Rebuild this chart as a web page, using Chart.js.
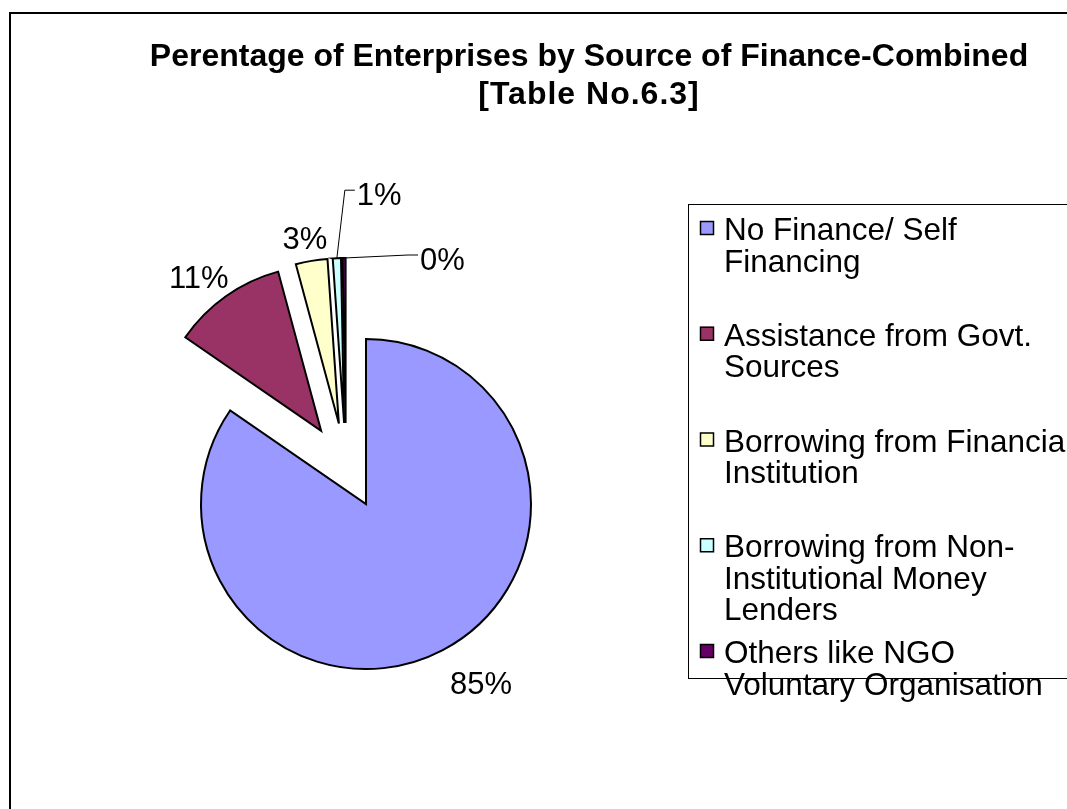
<!DOCTYPE html>
<html><head><meta charset="utf-8">
<script src="https://cdn.jsdelivr.net/npm/chart.js@4.4.1/dist/chart.umd.min.js"></script>
<style>html,body{margin:0;padding:0;background:#fff;overflow:hidden}canvas{display:block}</style>
</head><body>
<canvas id="c" width="1067" height="809"></canvas>
<script>
const titleLines = ['Perentage of Enterprises by Source of Finance-Combined', '[Table No.6.3]'];
const categories = [
  ['No Finance/ Self', 'Financing'],
  ['Assistance from Govt.', 'Sources'],
  ['Borrowing from Financial', 'Institution'],
  ['Borrowing from Non-', 'Institutional Money', 'Lenders'],
  ['Others like NGO', 'Voluntary Organisation']
];
const shares = [84.6, 11.2, 3.1, 0.8, 0.3];
const sliceColors = ['#9999FF', '#993366', '#FFFFCC', '#CCFFFF', '#660066'];

const FONT = '"Liberation Sans", Arial, sans-serif';
const EXPLODE = 43;
const LABEL_GAP = 17;
const LABEL_NUDGE = {0: [16, 11]};
const CALLOUTS = {3: {dx: 20, dy: -62}, 4: {dx: 76, dy: 3}};
const TITLE_SPACING = ['0px', '1px'];

const framePlugin = {
  id: 'frame',
  beforeDraw(chart) {
    const ctx = chart.ctx;
    ctx.save();
    ctx.fillStyle = '#fff';
    ctx.fillRect(0, 0, chart.width, chart.height);
    ctx.strokeStyle = '#000';
    ctx.lineWidth = 2;
    ctx.strokeRect(10, 13, 1200, 1000);
    ctx.fillStyle = '#000';
    ctx.font = 'bold 32px ' + FONT;
    ctx.textAlign = 'center';
    ctx.textBaseline = 'alphabetic';
    titleLines.forEach((t, i) => {
      if ('letterSpacing' in ctx) ctx.letterSpacing = TITLE_SPACING[i];
      ctx.fillText(t, 589, 66 + i * 38);
    });
    ctx.restore();
  }
};

const explodePlugin = {
  id: 'explode',
  beforeDatasetDraw(chart, args) {
    const ctx = chart.ctx;
    args.meta.data.forEach(arc => {
      const mid = (arc.startAngle + arc.endAngle) / 2;
      ctx.save();
      ctx.translate(Math.cos(mid) * EXPLODE, Math.sin(mid) * EXPLODE);
      arc.draw(ctx, chart.chartArea);
      ctx.restore();
    });
    return false;
  }
};

const labelPlugin = {
  id: 'sliceLabels',
  afterDatasetsDraw(chart) {
    const ctx = chart.ctx;
    const meta = chart.getDatasetMeta(0);
    const total = shares.reduce((a, b) => a + b, 0);
    ctx.save();
    ctx.font = '31px ' + FONT;
    ctx.fillStyle = '#000';
    ctx.strokeStyle = '#000';
    ctx.lineWidth = 1;
    ctx.textAlign = 'center';
    ctx.textBaseline = 'middle';
    meta.data.forEach((arc, i) => {
      const mid = (arc.startAngle + arc.endAngle) / 2;
      const dx = Math.cos(mid), dy = Math.sin(mid);
      const ax = arc.x + dx * EXPLODE, ay = arc.y + dy * EXPLODE;
      const r = arc.outerRadius;
      const text = Math.round(shares[i] / total * 100) + '%';
      const w = ctx.measureText(text).width, h = 14;
      const tipX = ax + dx * r, tipY = ay + dy * r;
      const call = CALLOUTS[i];
      if (call) {
        const left = tipX + call.dx, cy = tipY + call.dy;
        ctx.beginPath();
        ctx.moveTo(tipX, tipY);
        ctx.lineTo(left - 12, cy - 6);
        ctx.lineTo(left - 2, cy - 6);
        ctx.stroke();
        ctx.fillText(text, left + w / 2, cy);
      } else {
        const n = LABEL_NUDGE[i] || [0, 0];
        const cx = ax + dx * (r + LABEL_GAP) + dx * w / 2 + n[0];
        const cy = ay + dy * (r + LABEL_GAP) + dy * h / 2 + n[1] + 3;
        ctx.fillText(text, cx, cy);
      }
    });
    ctx.restore();
  }
};

const legendPlugin = {
  id: 'boxLegend',
  afterDraw(chart) {
    const ctx = chart.ctx;
    ctx.save();
    ctx.strokeStyle = '#000';
    ctx.lineWidth = 1;
    ctx.strokeRect(688.5, 204.5, 600, 474);
    ctx.font = '31.5px ' + FONT;
    ctx.textAlign = 'left';
    ctx.textBaseline = 'alphabetic';
    categories.forEach((lines, i) => {
      const base = 240 + i * 105.75;
      ctx.fillStyle = sliceColors[i];
      ctx.fillRect(700, base - 19, 14, 14);
      ctx.strokeStyle = '#000';
      ctx.lineWidth = 1.5;
      ctx.strokeRect(700.5, base - 18.5, 13, 13);
      ctx.fillStyle = '#000';
      lines.forEach((ln, j) => ctx.fillText(ln, 724, base + j * 31.5));
    });
    ctx.restore();
  }
};

new Chart(document.getElementById('c'), {
  type: 'pie',
  data: {
    labels: categories,
    datasets: [{
      data: shares,
      backgroundColor: sliceColors,
      borderColor: '#000',
      borderWidth: 2,
      borderJoinStyle: 'miter'
    }]
  },
  options: {
    responsive: false,
    animation: false,
    events: [],
    radius: 165,
    layout: {padding: {left: 0, right: 375, top: 123, bottom: 0}},
    plugins: {legend: {display: false}, title: {display: false}, tooltip: {enabled: false}}
  },
  plugins: [framePlugin, explodePlugin, labelPlugin, legendPlugin]
});
</script>
</body></html>
